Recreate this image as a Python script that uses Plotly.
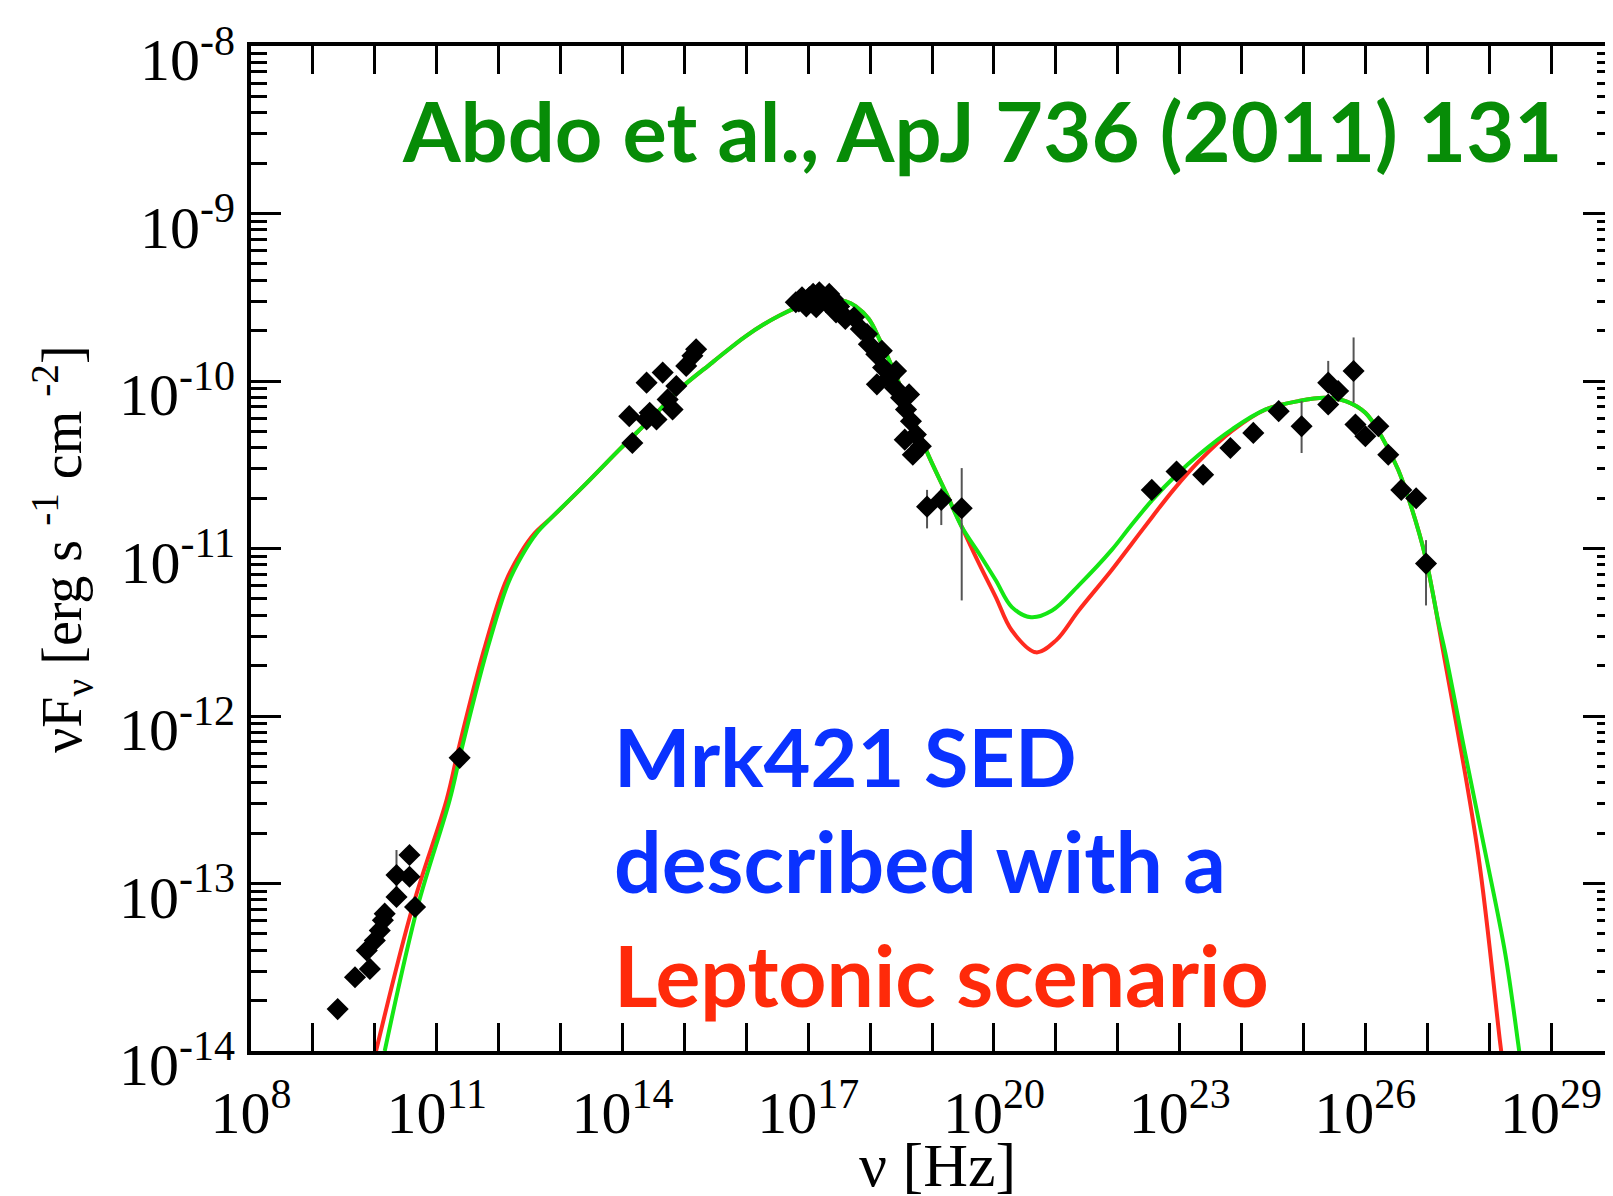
import plotly.graph_objects as go

# ---------------- data (log10 values) ----------------
# Leptonic SSC model curves: log10(nu/Hz), log10(nuFnu / erg s^-1 cm^-2)
green_lognu = [10.16, 10.69, 11.21, 11.40, 11.81, 12.15, 12.38, 12.61, 12.87, 13.42, 13.95,
               14.50, 14.92, 15.45, 16.00, 16.53, 17.06, 17.34, 17.61, 17.77, 17.98,
               18.15, 18.42, 18.68, 18.95, 19.23, 19.48, 19.76, 20.03, 20.29, 20.60,
               20.94, 21.37, 21.90, 22.20, 22.56, 22.95, 23.31, 23.84, 24.39, 24.92,
               25.35, 25.68, 26.00, 26.26, 26.53, 26.74, 26.97, 27.18, 27.29, 27.61,
               27.94, 28.26, 28.47, 28.52]
green_logF = [-14.00, -13.14, -12.50, -12.20, -11.61, -11.21, -11.04, -10.91, -10.81, -10.61, -10.41,
              -10.21, -10.05, -9.89, -9.73, -9.61, -9.53, -9.52, -9.525, -9.555, -9.63,
              -9.75, -9.97, -10.21, -10.45, -10.67, -10.87, -11.03, -11.19, -11.35, -11.41,
              -11.37, -11.22, -11.01, -10.87, -10.71, -10.56, -10.44, -10.29, -10.17, -10.12,
              -10.10, -10.12, -10.19, -10.33, -10.53, -10.75, -11.05, -11.44, -11.62, -12.22,
              -12.82, -13.42, -13.96, -14.10]

red_lognu = [10.02, 10.61, 11.16, 11.35, 11.76, 12.10, 12.35, 12.58, 12.87, 13.42, 13.95,
             14.50, 14.92, 15.45, 16.00, 16.53, 17.06, 17.34, 17.61, 17.77, 17.98,
             18.15, 18.42, 18.68, 18.95, 19.23, 19.48, 19.76, 20.03, 20.29, 20.68,
             21.00, 21.37, 21.90, 22.23, 22.56, 22.90, 23.31, 23.84, 24.39, 24.92,
             25.35, 25.68, 26.00, 26.26, 26.53, 26.74, 26.97, 27.26, 27.82, 28.18, 28.23]
red_logF = [-14.00, -13.14, -12.50, -12.20, -11.61, -11.21, -11.03, -10.91, -10.81, -10.61, -10.41,
            -10.21, -10.05, -9.89, -9.73, -9.61, -9.53, -9.52, -9.525, -9.555, -9.63,
            -9.75, -9.97, -10.21, -10.45, -10.67, -10.87, -11.09, -11.29, -11.49, -11.62,
            -11.55, -11.37, -11.13, -10.97, -10.81, -10.65, -10.48, -10.30, -10.17, -10.12,
            -10.10, -10.12, -10.19, -10.33, -10.53, -10.75, -11.05, -11.62, -12.82, -13.96, -14.10]

# Multi-wavelength data points: log10(nu), log10(nuFnu), log10 of upper / lower error ends (None = no bar)
data_lognu = [9.40, 9.68, 9.87, 9.92, 10.00, 10.08, 10.13, 10.16, 10.35, 10.35,
              10.56, 10.56, 10.65, 11.37,
              14.11, 14.16, 14.39, 14.39, 14.44, 14.55, 14.65, 14.73, 14.81, 14.87,
              15.03, 15.13, 15.19,
              16.80, 16.85, 16.90, 16.97, 17.02, 17.08, 17.13, 17.18, 17.24, 17.29,
              17.34, 17.40, 17.45, 17.50, 17.55, 17.60,
              17.74, 17.85, 17.95, 17.98, 18.10, 18.11, 18.19, 18.21, 18.31, 18.40,
              18.42, 18.50, 18.56, 18.58, 18.63, 18.66, 18.69, 18.74, 18.82,
              18.92, 19.15, 19.48,
              22.55, 22.95, 23.38, 23.82, 24.19, 24.60, 24.97, 25.40, 25.56, 25.40,
              25.81, 25.84, 26.00, 26.21, 26.37, 26.58, 26.82, 26.98]
data_logF = [-13.75, -13.56, -13.40, -13.51, -13.34, -13.28, -13.22, -13.18, -13.08, -12.95,
             -12.96, -12.83, -13.14, -12.25,
             -10.21, -10.37, -10.01, -10.23, -10.19, -10.23, -9.95, -10.11, -10.17, -10.03,
             -9.91, -9.85, -9.81,
             -9.53, -9.525, -9.50, -9.555, -9.50, -9.48, -9.56, -9.47, -9.50, -9.53,
             -9.48, -9.51, -9.59, -9.555, -9.60, -9.63,
             -9.62, -9.69, -9.72, -9.78, -9.84, -10.02, -9.82, -9.92, -9.98, -10.04,
             -9.94, -10.10, -10.35, -10.17, -10.08, -10.24, -10.44, -10.32, -10.39,
             -10.75, -10.71, -10.76,
             -10.65, -10.54, -10.56, -10.40, -10.31, -10.18, -10.27, -10.01, -10.06, -10.14,
             -9.94, -10.26, -10.33, -10.27, -10.44, -10.65, -10.70, -11.09]
err_up_logF = [None] * 9 + [-12.80, None, -12.78] + [None] * 2 + [None] * 13 + [None] * 16 + [None] * 19 + \
              [-10.65, -10.64, -10.52] + \
              [None] * 6 + [-10.12, -9.88, None, None, -9.74, None, None, None, None, None, None, -10.95]
err_lo_logF = [None] * 9 + [-13.05, None, -12.88] + [None] * 2 + [None] * 13 + [None] * 16 + [None] * 19 + \
              [-10.88, -10.86, -11.31] + \
              [None] * 6 + [-10.43, None, None, None, -10.13, None, None, None, None, None, None, -11.34]

# Axis tick labels
x_labeled = [8, 11, 14, 17, 20, 23, 26, 29]
y_tick_exps = [-14, -13, -12, -11, -10, -9, -8]

# ---------------- figure ----------------
def p10(v):
    return 10.0 ** float(v)

fig = go.Figure()

fig.add_trace(go.Scatter(
    x=[p10(v) for v in red_lognu], y=[p10(v) for v in red_logF],
    mode="lines", line=dict(color="#ff2a1f", width=4, shape="spline", smoothing=1.0),
    showlegend=False, hoverinfo="skip"))
fig.add_trace(go.Scatter(
    x=[p10(v) for v in green_lognu], y=[p10(v) for v in green_logF],
    mode="lines", line=dict(color="#14e614", width=4, shape="spline", smoothing=1.0),
    showlegend=False, hoverinfo="skip"))

ys = [p10(v) for v in data_logF]
eplus = [0 if u is None else p10(u) - y for u, y in zip(err_up_logF, ys)]
eminus = [0 if l is None else y - p10(l) for l, y in zip(err_lo_logF, ys)]
fig.add_trace(go.Scatter(
    x=[p10(v) for v in data_lognu], y=ys, mode="markers",
    marker=dict(symbol="diamond", size=17, color="black", line=dict(width=0)),
    error_y=dict(type="data", symmetric=False, array=eplus, arrayminus=eminus,
                 color="#555555", thickness=2, width=0),
    showlegend=False))

serif = "Liberation Serif, Times New Roman, serif"
x_tickvals = [p10(e) for e in x_labeled]
x_ticktext = [f"10<sup>{e}</sup>" for e in x_labeled]
y_tickvals = [p10(e) for e in y_tick_exps]
y_ticktext = [f"10<sup>{e}</sup>" for e in y_tick_exps]

fig.update_xaxes(
    type="log", range=[8, 30], tickvals=x_tickvals, ticktext=x_ticktext,
    ticks="inside", ticklen=28, tickwidth=3, tickcolor="black",
    minor=dict(ticks="inside", ticklen=28, tickwidth=3, tickcolor="black", dtick=1, showgrid=False),
    showline=True, linewidth=4, linecolor="black", mirror="ticks",
    showgrid=False, zeroline=False, automargin=False, ticklabelstandoff=6,
    tickfont=dict(family=serif, size=60, color="black"),
)
fig.update_yaxes(
    type="log", range=[-14, -8], tickvals=y_tickvals, ticktext=y_ticktext,
    ticks="inside", ticklen=30, tickwidth=3, tickcolor="black",
    minor=dict(ticks="inside", ticklen=16, tickwidth=3, tickcolor="black", dtick="D1", showgrid=False),
    showline=True, linewidth=4, linecolor="black", mirror="ticks",
    showgrid=False, zeroline=False, automargin=False,
    ticklabelshift=13,
    tickfont=dict(family=serif, size=60, color="black"),
)

# axis titles
fig.add_annotation(text="ν [Hz]", xref="paper", yref="paper", x=0.5042, y=-0.1134,
                   xanchor="center", yanchor="middle", showarrow=False,
                   font=dict(family=serif, size=62, color="black"))
fig.add_annotation(text="νF<sub>ν</sub> [erg s <sup>-1</sup> cm <sup>-2</sup>]",
                   xref="paper", yref="paper", x=-0.1388, y=0.4995, textangle=-90,
                   xanchor="center", yanchor="middle", showarrow=False,
                   font=dict(family=serif, size=56, color="black"))

ann_font = "Lato, Open Sans, sans-serif"
fig.add_annotation(text="<b>Abdo et al., ApJ 736 (2011) 131</b>", xref="paper", yref="paper",
                   x=0.1094, y=0.9165, xanchor="left", yanchor="middle", showarrow=False,
                   font=dict(family=ann_font, size=83, color="#078c07"))
fig.add_annotation(text="<b>Mrk421 SED</b>", xref="paper", yref="paper",
                   x=0.2653, y=0.294, xanchor="left", yanchor="middle", showarrow=False,
                   font=dict(family=ann_font, size=81, color="#0a32ff"))
fig.add_annotation(text="<b>described with a</b>", xref="paper", yref="paper",
                   x=0.2653, y=0.1895, xanchor="left", yanchor="middle", showarrow=False,
                   font=dict(family=ann_font, size=84, color="#0a32ff"))
fig.add_annotation(text="<b>Leptonic scenario</b>", xref="paper", yref="paper",
                   x=0.2653, y=0.0766, xanchor="left", yanchor="middle", showarrow=False,
                   font=dict(family=ann_font, size=84, color="#ff2a0a"))

# the page body adds an 8 px margin, so the figure is 8 px smaller than the window
fig.update_layout(
    width=1605, height=1188,
    margin=dict(l=243, r=0, t=38, b=145),
    paper_bgcolor="white", plot_bgcolor="white",
)

fig.write_html("out.html")
